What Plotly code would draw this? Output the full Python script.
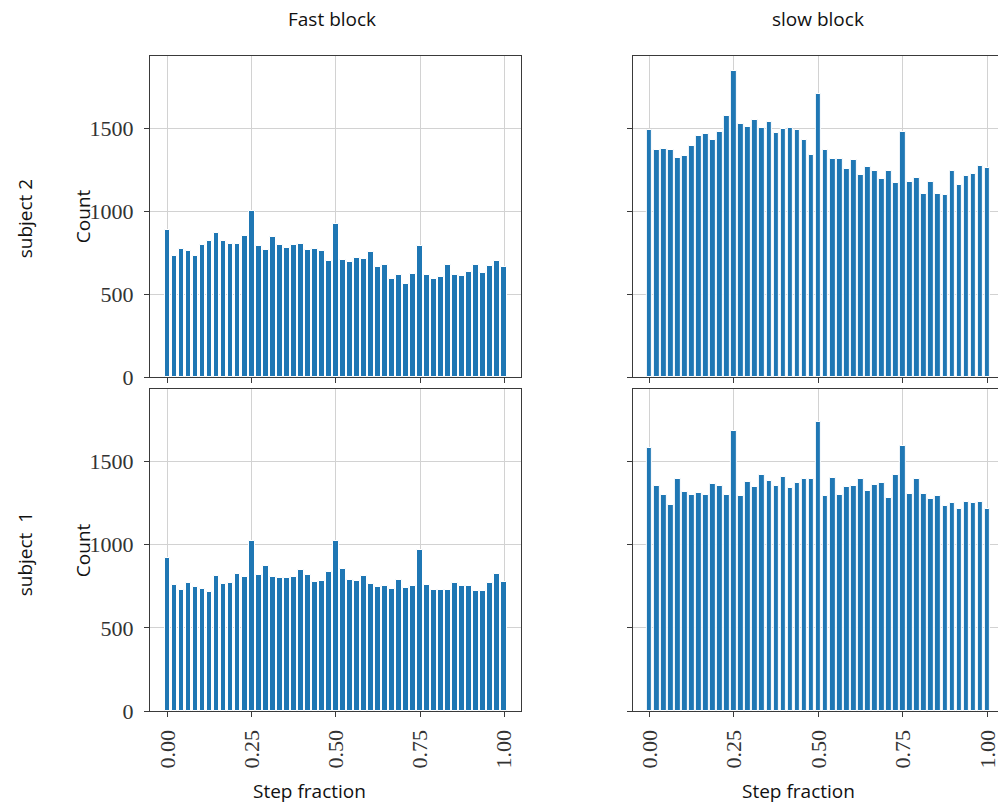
import plotly.graph_objects as go

# bin centres (49 bins of width 1/48)
step_fraction = [k / 48 for k in range(49)]

subj2_fast = [889, 732, 774, 762, 732, 796, 822, 869, 822, 804, 800, 847, 1000,
              790, 766, 845, 794, 778, 798, 804, 766, 774, 762, 697, 925,
              703, 695, 717, 711, 754, 663, 677, 592, 615, 560, 619, 788,
              617, 592, 602, 675, 615, 609, 635, 673, 627, 669, 699, 661]
subj2_slow = [1490, 1369, 1373, 1369, 1322, 1335, 1391, 1452, 1464, 1427, 1476, 1571, 1843,
              1528, 1508, 1548, 1498, 1540, 1468, 1494, 1500, 1490, 1431, 1341, 1708,
              1367, 1312, 1312, 1256, 1308, 1217, 1268, 1240, 1193, 1244, 1171, 1478,
              1173, 1199, 1104, 1173, 1106, 1100, 1240, 1157, 1213, 1221, 1274, 1260]
subj1_fast = [919, 760, 730, 770, 746, 736, 717, 812, 766, 772, 826, 808, 1024,
              816, 869, 806, 802, 802, 804, 847, 818, 774, 784, 833, 1024,
              855, 788, 780, 812, 764, 744, 750, 734, 788, 740, 754, 968,
              758, 730, 730, 728, 772, 752, 754, 724, 722, 770, 822, 774]
subj1_slow = [1583, 1355, 1296, 1236, 1395, 1314, 1300, 1312, 1300, 1367, 1351, 1298, 1684,
              1292, 1377, 1349, 1421, 1383, 1355, 1409, 1341, 1369, 1397, 1395, 1736,
              1294, 1399, 1298, 1345, 1353, 1397, 1324, 1361, 1373, 1280, 1417, 1593,
              1302, 1393, 1306, 1274, 1292, 1232, 1252, 1213, 1256, 1252, 1256, 1215]

col_titles = ["Fast block", "slow block"]
row_titles = ["subject 2", "subject\u00a0 1"]
x_ticks = [0, 0.25, 0.5, 0.75, 1.0]
x_ticklabels = ["0.00", "0.25", "0.50", "0.75", "1.00"]
y_ticks = [0, 500, 1000, 1500]
y_ticklabels = ["0", "500", "1000", "1500"]

BLUE = "#1f77b4"
SPINE = "#3a3a3a"
GRID = "#d2d2d2"
SANS = "Open Sans"
SERIF = "Liberation Serif"
TICKCOL = "#333333"

W, H = 1000, 805
ML, MR, MT, MB = 150, 0, 56, 94
PW, PH = W - ML - MR, H - MT - MB

def px_x(p):
    return (p - ML) / PW

def px_y(p):
    return (H - MB - p) / PH

fig = go.Figure()

panels = [
    (subj2_fast, "x", "y"),
    (subj2_slow, "x2", "y2"),
    (subj1_fast, "x3", "y3"),
    (subj1_slow, "x4", "y4"),
]
for vals, xa, ya in panels:
    fig.add_trace(go.Bar(
        x=step_fraction, y=vals, xaxis=xa, yaxis=ya,
        width=0.8 / 48,
        marker=dict(color=BLUE, line=dict(color="white", width=1)),
        showlegend=False,
    ))

xdom_left = [0, px_x(522)]
xdom_right = [px_x(634), 1.0]
ydom_top = [px_y(377), 1.0]
ydom_bot = [0, px_y(389)]

xr_left = [-0.052, 1.050]
xr_right = [-0.0493, 1.0313]
yr = [0, 1935]

def xaxis(domain, rng, anchor, labels):
    return dict(
        domain=domain, range=rng, anchor=anchor,
        tickmode="array", tickvals=x_ticks, ticktext=x_ticklabels,
        showticklabels=labels, tickangle=-90,
        tickfont=dict(family=SERIF, size=22, color=TICKCOL),
        ticks="outside", ticklen=5, tickwidth=1.2, tickcolor=SPINE,
        ticklabelstandoff=4, ticklabeloverflow="allow",
        showline=True, linecolor=SPINE, linewidth=1.3, mirror=True,
        showgrid=True, gridcolor=GRID, gridwidth=1,
        zeroline=False, layer="below traces",
    )

def yaxis(domain, anchor, labels, mirror):
    return dict(
        domain=domain, range=yr, anchor=anchor,
        tickmode="array", tickvals=y_ticks, ticktext=y_ticklabels,
        showticklabels=labels,
        tickfont=dict(family=SERIF, size=22, color=TICKCOL),
        ticks="outside", ticklen=5, tickwidth=1.2, tickcolor=SPINE,
        ticklabelstandoff=6, ticklabeloverflow="allow",
        showline=True, linecolor=SPINE, linewidth=1.3, mirror=mirror,
        showgrid=True, gridcolor=GRID, gridwidth=1,
        zeroline=False, layer="below traces",
    )

fig.update_layout(
    width=W, height=H,
    margin=dict(l=ML, r=MR, t=MT, b=MB),
    paper_bgcolor="white", plot_bgcolor="white",
    bargap=0,
    xaxis=xaxis(xdom_left, xr_left, "y", False),
    yaxis=yaxis(ydom_top, "x", True, True),
    xaxis2=xaxis(xdom_right, xr_right, "y2", False),
    yaxis2=yaxis(ydom_top, "x2", False, False),
    xaxis3=xaxis(xdom_left, xr_left, "y3", True),
    yaxis3=yaxis(ydom_bot, "x3", True, True),
    xaxis4=xaxis(xdom_right, xr_right, "y4", True),
    yaxis4=yaxis(ydom_bot, "x4", False, False),
)

ann_font = dict(family=SANS, size=19, color="#111")
annotations = [
    dict(text=col_titles[0], x=px_x(332), y=px_y(19)),
    dict(text=col_titles[1], x=px_x(820), y=px_y(19)),
    dict(text=row_titles[0], x=px_x(25), y=px_y(219), textangle=-90),
    dict(text=row_titles[1], x=px_x(25), y=px_y(554), textangle=-90),
    dict(text="Count", x=px_x(83), y=px_y(216), textangle=-90),
    dict(text="Count", x=px_x(83), y=px_y(550), textangle=-90),
    dict(text="Step fraction", x=px_x(310), y=px_y(791)),
    dict(text="Step fraction", x=px_x(800), y=px_y(791)),
]
for a in annotations:
    fig.add_annotation(xref="paper", yref="paper", showarrow=False,
                       xanchor="center", yanchor="middle", font=ann_font, **a)

fig.write_html(
    "out.html",
    config={"displayModeBar": False},
    post_script="document.body.style.margin='0';document.body.style.overflow='hidden';",
)
